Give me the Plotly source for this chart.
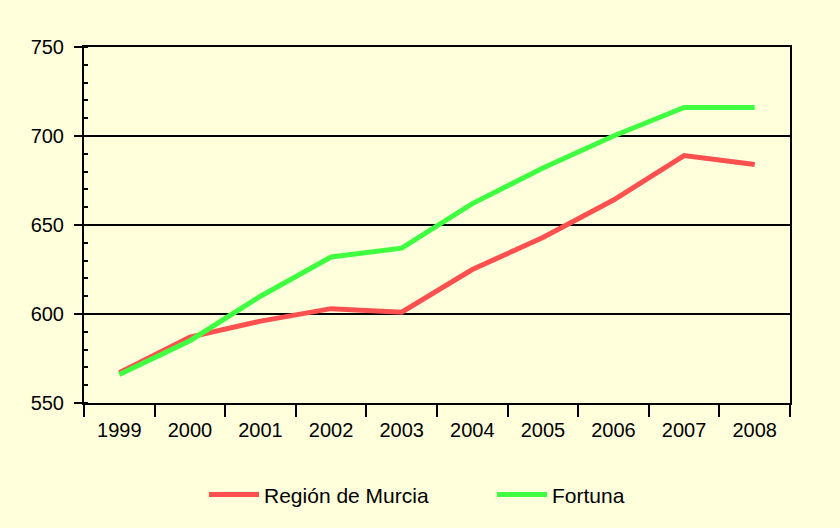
import plotly.graph_objects as go

years = ["1999", "2000", "2001", "2002", "2003", "2004", "2005", "2006", "2007", "2008"]
murcia = [567, 587, 596, 603, 601, 625, 643, 664, 689, 684]
fortuna = [566, 585, 610, 632, 637, 662, 682, 700, 716, 716]

bg = "#FFFFDC"

fig = go.Figure()
fig.add_trace(go.Scatter(x=years, y=murcia, mode="lines", name="Región de Murcia",
                         line=dict(color="#FF5050", width=5)))
fig.add_trace(go.Scatter(x=years, y=fortuna, mode="lines", name="Fortuna",
                         line=dict(color="#40FF40", width=5)))

fig.update_layout(
    width=840, height=528,
    paper_bgcolor=bg, plot_bgcolor=bg,
    margin=dict(l=84, r=50, t=47, b=125),
    font=dict(family="Liberation Sans, Arial, sans-serif", size=20, color="black"),
    showlegend=True,
    legend=dict(orientation="h", x=0.170, xanchor="left", y=-0.258, yanchor="middle",
                bgcolor="rgba(0,0,0,0)", font=dict(size=21), entrywidth=223,
                itemwidth=50, borderwidth=0),
)
fig.update_xaxes(type="category", tickson="boundaries", ticks="outside", ticklen=12,
                 tickwidth=2, tickcolor="black", showline=True, linecolor="black",
                 linewidth=2, mirror=True, showgrid=False, range=[-0.5, 9.5],
                 ticklabelstandoff=8)
fig.update_yaxes(range=[550, 750], dtick=50, tick0=550, ticks="outside", ticklen=8,
                 tickwidth=2, tickcolor="black", showline=True, linecolor="black",
                 linewidth=2, mirror=True, showgrid=True, gridcolor="black", gridwidth=1.5,
                 zeroline=False, ticklabelstandoff=6,
                 minor=dict(dtick=10, ticks="inside", ticklen=4, tickcolor="black", tickwidth=2,
                            showgrid=False))
fig.write_html("out.html", config={"displayModeBar": False},
               post_script="document.body.style.margin='0';document.body.style.overflow='hidden';")
